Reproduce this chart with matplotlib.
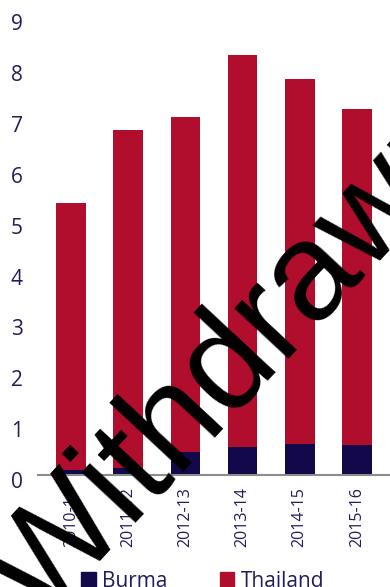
import matplotlib
matplotlib.use('Agg')
from matplotlib import pyplot as plt
from matplotlib.patches import Patch
import matplotlib.transforms as mtransforms
import numpy as np

years = ['2010-11', '2011-12', '2012-13', '2013-14', '2014-15', '2015-16']
burma = [0.10, 0.14, 0.46, 0.56, 0.61, 0.59]
total = [5.35, 6.79, 7.04, 8.26, 7.79, 7.20]
thailand = [t - b for t, b in zip(total, burma)]

navy = '#12084A'
red = '#B10E2D'
txt = '#211C5C'

plt.rcParams['font.family'] = ['Open Sans', 'DejaVu Sans']

fig = plt.figure(figsize=(3.9, 5.87), dpi=100)
ax = fig.add_axes([0.0974, 0.1908, 0.9026, 0.9702 - 0.1908])

x = np.arange(len(years))
ax.bar(x, burma, width=0.52, color=navy, label='Burma')
ax.bar(x, thailand, width=0.52, bottom=burma, color=red, label='Thailand')

ax.set_xlim(-0.58, 5.58)
ax.set_ylim(0, 9)
ax.set_yticks(range(10))
ax.set_xticks(x)
ax.set_xticklabels(years, rotation=90, fontsize=11.5, color=txt)
ax.tick_params(axis='y', length=0, labelsize=15, labelcolor=txt, pad=19.5)
ax.tick_params(axis='x', length=0, pad=9)
# labels sit a bit below their ticks
off = mtransforms.ScaledTranslation(0, -5 / 100, fig.dpi_scale_trans)
for lab in ax.get_yticklabels():
    lab.set_transform(lab.get_transform() + off)
    lab.set_horizontalalignment('left')

for s in ['top', 'right', 'left']:
    ax.spines[s].set_visible(False)
ax.spines['bottom'].set_color('#8C8C8C')
ax.spines['bottom'].set_linewidth(1.5)

handles = [Patch(color=navy, label='Burma'), Patch(color=red, label='Thailand')]
fig.legend(handles=handles, loc='lower center', bbox_to_anchor=(0.52, -0.04), ncol=2,
           frameon=False, fontsize=15, labelcolor=txt, handlelength=0.7,
           handleheight=0.7, handletextpad=0.3, columnspacing=2.5)

fig.text(0.61, 0.387, 'Withdrawn', fontsize=100, family='Liberation Sans',
         rotation=47, ha='center', va='center', rotation_mode='anchor', color='black')

fig.savefig('out.png', dpi=100)
